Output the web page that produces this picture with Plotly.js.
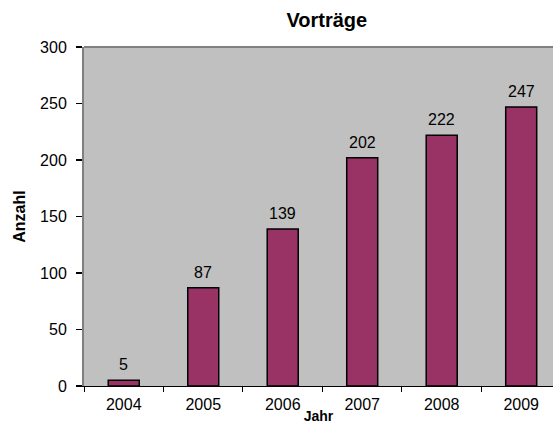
<!DOCTYPE html>
<html><head><meta charset="utf-8">
<script src="https://cdn.plot.ly/plotly-3.0.1.min.js"></script>
<style>html,body{margin:0;padding:0;background:#fff}#chart{width:553px;height:424px}</style>
</head><body><div id="chart"></div>
<script>
const years = ["2004","2005","2006","2007","2008","2009"];
const talks = [5, 87, 139, 202, 222, 247];
const yTicks = [0, 50, 100, 150, 200, 250, 300];

const FONT = "Liberation Sans, Arial, sans-serif";

const trace = {
  type: "bar",
  x: years,
  y: talks,
  width: 0.39,
  marker: {color: "#993366", line: {color: "#000000", width: 1.5}},
  hoverinfo: "none"
};

const labels = talks.map((v, i) => ({
  x: i, y: v, xref: "x", yref: "y",
  text: String(v), showarrow: false,
  xanchor: "center", yanchor: "bottom", yshift: 5,
  font: {family: FONT, size: 16, color: "#000000"}
}));

const layout = {
  width: 553, height: 424,
  margin: {l: 84, r: 0, t: 47, b: 38},
  paper_bgcolor: "#ffffff",
  plot_bgcolor: "#C0C0C0",
  showlegend: false,
  font: {family: FONT, size: 16, color: "#000"},
  title: {text: "<b>Vorträge</b>", x: 0.591, xanchor: "center", y: 0.953, yanchor: "middle",
          font: {size: 20, family: FONT, color: "#000"}},
  xaxis: {
    type: "category",
    range: [-0.5, 5.4],
    showgrid: false,
    showline: true, linecolor: "#000", linewidth: 1,
    ticks: "outside", tickson: "boundaries", ticklen: 5, tickcolor: "#000",
    ticklabelstandoff: 4,
    tickfont: {size: 16},
    title: {text: "<b>Jahr</b>", standoff: 8, font: {size: 14}},
    fixedrange: true
  },
  yaxis: {
    range: [0, 300],
    tickvals: yTicks,
    showgrid: false,
    zeroline: false,
    showline: true, linecolor: "#808080", linewidth: 2,
    ticks: "outside", ticklen: 6, tickcolor: "#000", tickwidth: 1.5,
    ticklabelstandoff: 6,
    tickfont: {size: 16},
    title: {text: "<b>Anzahl</b>", standoff: 10, font: {size: 16}},
    fixedrange: true
  },
  annotations: labels,
  shapes: [
    {type: "line", xref: "paper", yref: "paper", x0: 0, x1: 1, y0: 1, y1: 1,
     line: {color: "#808080", width: 2}}
  ]
};

Plotly.newPlot("chart", [trace], layout, {staticPlot: true, displayModeBar: false});
</script></body></html>
